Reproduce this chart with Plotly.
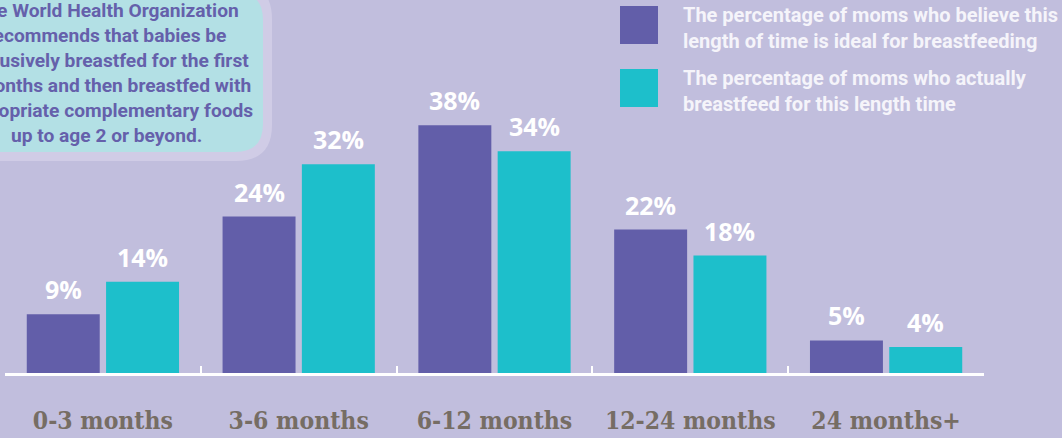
import plotly.graph_objects as go

categories = ["0-3 months", "3-6 months", "6-12 months", "12-24 months", "24 months+"]
believe_ideal = [9, 24, 38, 22, 5]
actually_breastfeed = [14, 32, 34, 18, 4]
series_names = [
    "The percentage of moms who believe this<br>length of time is ideal for breastfeeding",
    "The percentage of moms who actually<br>breastfeed for this length time",
]
callout_text = ("The World Health Organization<br>recommends that babies be<br>"
                "exclusively breastfed for the first<br>6 months and then breastfed with<br>"
                "appropriate complementary foods<br>up to age 2 or beyond.")

BG = "#C1BEDD"
PURPLE = "#625EA9"
TEAL = "#1DBFCB"
W, H = 1062, 438
ML, MR, MT, MB = 5, 78, 0, 65
PLOT_W = W - ML - MR
PLOT_H = H - MT - MB
BARGAP = 0.19
GROUPGAP = 0.08
YMAX = 57.2

def px_x(p):
    return (p - ML) / PLOT_W

def px_y(p):
    return (H - MB - p) / PLOT_H

def rounded_path(x0, y0, x1, y1, r):
    X = lambda v: px_x(v)
    Y = lambda v: px_y(v)
    return (f"M {X(x0)},{Y(y0)} L {X(x1 - r)},{Y(y0)} "
            f"Q {X(x1)},{Y(y0)} {X(x1)},{Y(y0 + r)} "
            f"L {X(x1)},{Y(y1 - r)} Q {X(x1)},{Y(y1)} {X(x1 - r)},{Y(y1)} "
            f"L {X(x0)},{Y(y1)} Z")

fig = go.Figure()
fig.add_trace(go.Bar(x=categories, y=believe_ideal, marker_color=PURPLE, marker_line_width=0,
                     name="believe"))
fig.add_trace(go.Bar(x=categories, y=actually_breastfeed, marker_color=TEAL, marker_line_width=0,
                     name="actual"))

slot = (1 - BARGAP) / 2
label_font = dict(family="Open Sans", size=25, color="white", weight="bold")
for vals, off in ((believe_ideal, -slot / 2), (actually_breastfeed, slot / 2)):
    for i, v in enumerate(vals):
        fig.add_annotation(x=i + off, y=v, xref="x", yref="y", text=f"{v}%",
                           showarrow=False, yanchor="bottom", yshift=6, font=label_font)

# callout box
fig.add_shape(type="path", xref="paper", yref="paper", layer="below",
              path=rounded_path(-30, -17, 272, 161, 36), fillcolor="#D0CCE6", line_width=0)
fig.add_shape(type="path", xref="paper", yref="paper", layer="below",
              path=rounded_path(-30, -8, 263, 152, 28), fillcolor="#B3E0E5", line_width=0)
fig.add_annotation(xref="paper", yref="paper", x=px_x(106), y=px_y(73), text=callout_text,
                   showarrow=False, align="center", xanchor="center", yanchor="middle",
                   font=dict(family="Liberation Sans Narrow, Roboto", size=19.2, color="#6560AB",
                             weight="bold"))

# legend
legend_font = dict(family="Liberation Sans Narrow, Roboto", size=20, color="#F5F4FA", weight="bold")
for (top, color, name) in ((6, PURPLE, series_names[0]), (69, TEAL, series_names[1])):
    fig.add_shape(type="rect", xref="paper", yref="paper", x0=px_x(620), x1=px_x(658),
                  y0=px_y(top), y1=px_y(top + 38), fillcolor=color, line_width=0)
    fig.add_annotation(xref="paper", yref="paper", x=px_x(681), y=px_y(top + 22), text=name,
                       showarrow=False, align="left", xanchor="left", yanchor="middle",
                       font=legend_font)

fig.update_layout(
    width=W, height=H, margin=dict(l=ML, r=MR, t=MT, b=MB),
    paper_bgcolor=BG, plot_bgcolor=BG, showlegend=False,
    barmode="group", bargap=BARGAP, bargroupgap=GROUPGAP,
    xaxis=dict(type="category", range=[-0.5, 4.5], showline=True, linecolor="white", linewidth=3,
               ticks="inside", tickson="boundaries", ticklen=7, tickwidth=2, tickcolor="white",
               showgrid=False, zeroline=False, ticklabelstandoff=24,
               tickfont=dict(family="DejaVu Serif Condensed, DejaVu Serif", size=24.5,
                             color="#766D64", weight="bold")),
    yaxis=dict(range=[0, YMAX], visible=False, showgrid=False, zeroline=False),
)

fig.write_html("out.html", config={"displayModeBar": False},
               post_script="document.body.style.margin='0px';")
